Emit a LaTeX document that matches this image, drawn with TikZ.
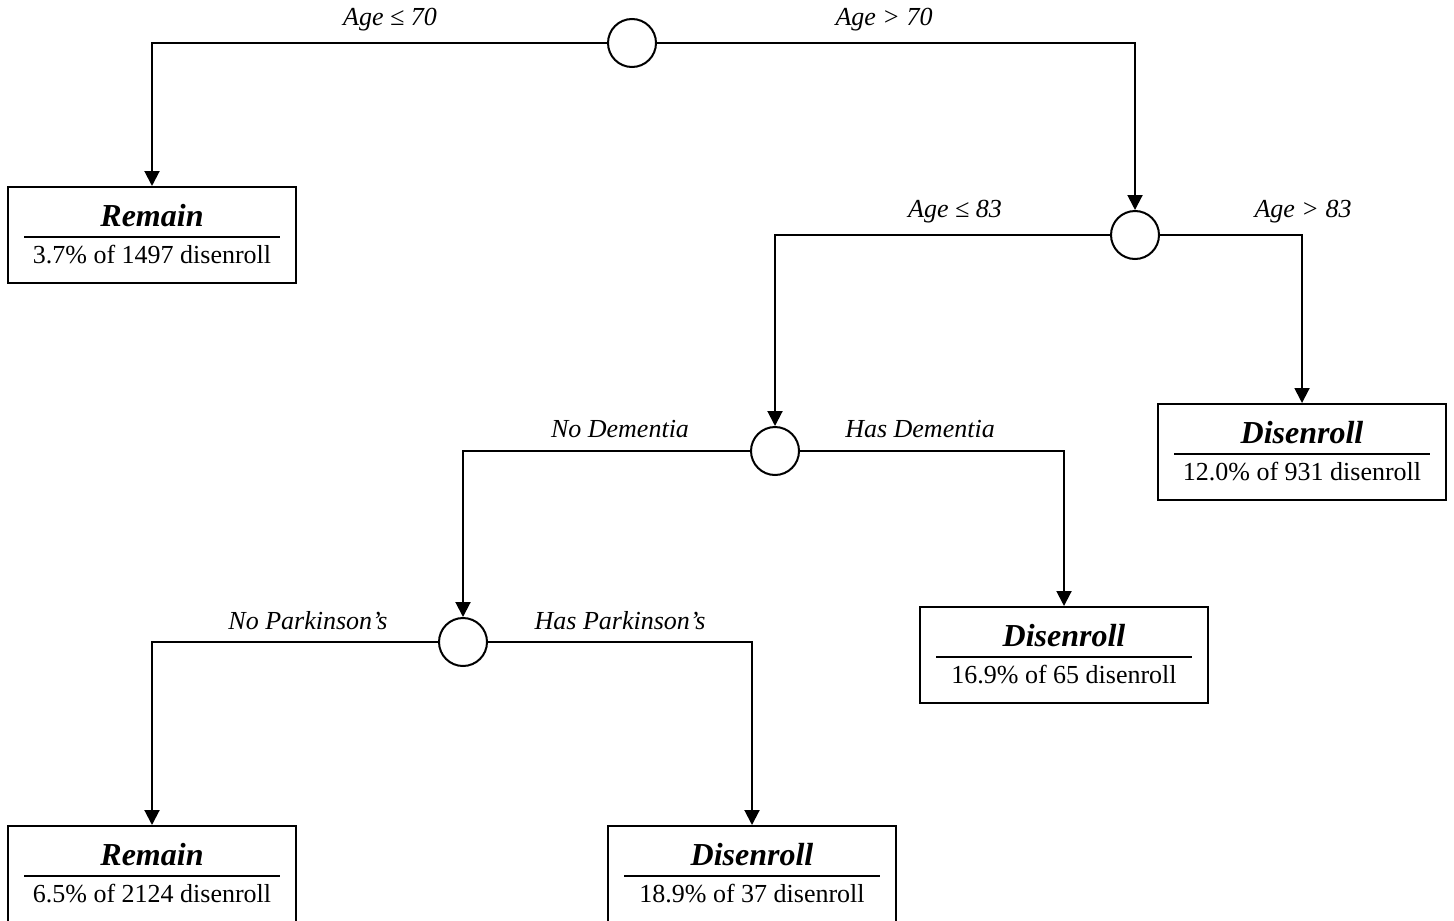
\documentclass[tikz,border=0pt]{standalone}
\usepackage{fontspec}
\setmainfont{Liberation Serif}
\usetikzlibrary{arrows.meta}
\newcommand\leafnode[5]{%
  \node[leafbox] (#1) at (#2,#3) {};
  \node[titletext] (#1t) at ([yshift=-15pt]#1.north) {#4};
  \draw[line width=1pt] ([xshift=8.5pt,yshift=-25.5pt]#1.north west) -- ([xshift=-8.5pt,yshift=-25.5pt]#1.north east);
  \node[bodytext] (#1b) at ([yshift=-34.5pt]#1.north) {#5};
}
\begin{document}
\begin{tikzpicture}[x=0.5pt,y=-0.5pt,
  split/.style={circle,draw,line width=1pt,minimum size=24pt,inner sep=0pt},
  leafbox/.style={draw,line width=1pt,minimum width=144pt,minimum height=48pt,inner sep=0pt,anchor=north},
  titletext/.style={font=\fontsize{16}{18}\selectfont\bfseries\itshape,inner sep=0pt},
  bodytext/.style={font=\fontsize{13}{15}\selectfont,inner sep=0pt},
  cond/.style={font=\fontsize{13}{15}\selectfont\itshape,inner sep=0pt},
  arr/.style={-{Triangle[length=7.5pt,width=7.5pt]},line width=1pt}]
\useasboundingbox (0,0) rectangle (1454,920);
% split nodes
\node[split] (s1) at (632,43) {};
\node[split] (s2) at (1135,235) {};
\node[split] (s3) at (775,451) {};
\node[split] (s4) at (463,642) {};
% leaves
\leafnode{l1}{152}{186}{Remain}{3.7\% of 1497 disenroll}
\leafnode{l2}{1302}{403}{Disenroll}{12.0\% of 931 disenroll}
\leafnode{l3}{1064}{606}{Disenroll}{16.9\% of 65 disenroll}
\leafnode{l4}{152}{825}{Remain}{6.5\% of 2124 disenroll}
\leafnode{l5}{752}{825}{Disenroll}{18.9\% of 37 disenroll}
% connectors
\draw[arr] (s1.west) -| (l1.north);
\draw[arr] (s1.east) -| (s2.north);
\draw[arr] (s2.west) -| (s3.north);
\draw[arr] (s2.east) -| (l2.north);
\draw[arr] (s3.west) -| (s4.north);
\draw[arr] (s3.east) -| (l3.north);
\draw[arr] (s4.west) -| (l4.north);
\draw[arr] (s4.east) -| (l5.north);
% condition labels
\node[cond] (c1) at (390,20) {Age ≤ 70};
\node[cond] (c2) at (884,20) {Age > 70};
\node[cond] (c3) at (955,212) {Age ≤ 83};
\node[cond] (c4) at (1303,212) {Age > 83};
\node[cond] (c5) at (620,429) {No Dementia};
\node[cond] (c6) at (920,429) {Has Dementia};
\node[cond] (c7) at (308,621) {No Parkinson’s};
\node[cond] (c8) at (620,621) {Has Parkinson’s};
\end{tikzpicture}
\end{document}
